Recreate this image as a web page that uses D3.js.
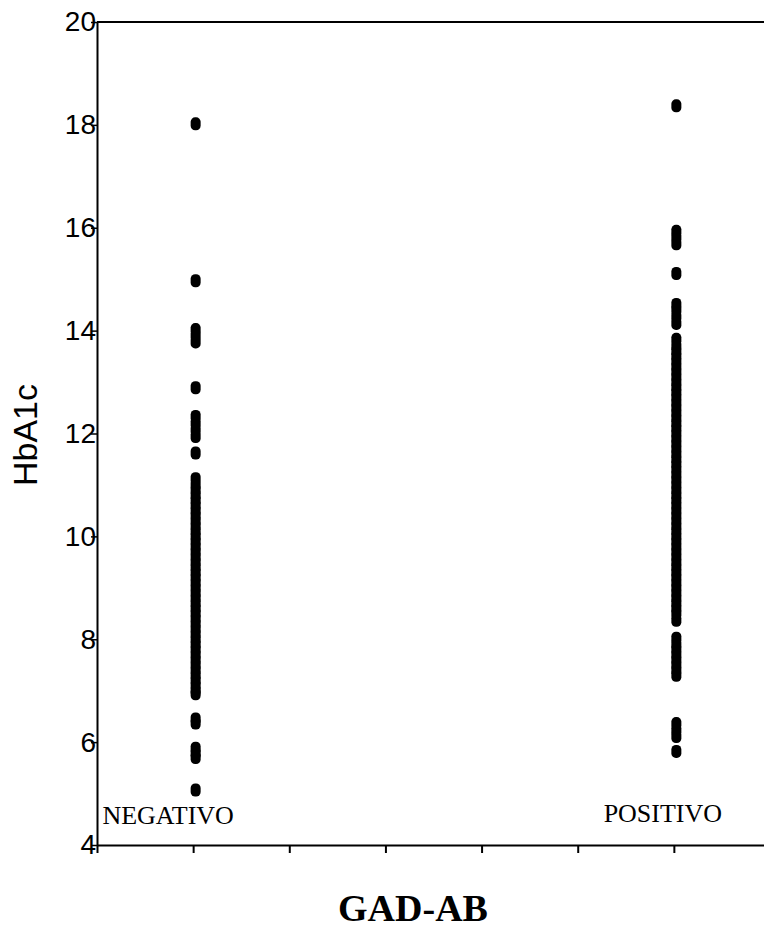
<!DOCTYPE html>
<html>
<head>
<meta charset="utf-8">
<script src="https://cdn.jsdelivr.net/npm/d3@7"></script>
<style>
  body { margin: 0; background: #fff; }
  svg { display: block; }
</style>
</head>
<body>
<div class="grafico"></div>
<script>
var width = 764, height = 941;

// categories on the x axis
var categories = ["NEGATIVO", "POSITIVO"],
  catPos = [1, 6];
var xTicks = [0, 1, 2, 3, 4, 5, 6, 7],
  yTicks = [4, 6, 8, 10, 12, 14, 16, 18, 20];

// HbA1c readings, GAD-AB negative
var negValues = [18.02, 14.97, 14.02, 13.9, 13.78, 12.89, 12.33, 12.2, 12.07, 11.94,
  11.62, 11.12, 11.0, 10.9, 10.8, 10.7, 10.6, 10.5, 10.4, 10.3, 10.2, 10.1, 10.0,
  9.9, 9.8, 9.7, 9.6, 9.5, 9.4, 9.3, 9.2, 9.1, 9.0, 8.9, 8.8, 8.7, 8.6, 8.5, 8.4,
  8.3, 8.2, 8.1, 8.0, 7.9, 7.8, 7.7, 7.6, 7.5, 7.4, 7.3, 7.2, 7.1, 7.0, 6.94,
  6.45, 6.37, 5.88, 5.78, 5.7, 5.07];

// HbA1c readings, GAD-AB positive
var posValues = [18.37, 15.93, 15.81, 15.69, 15.11, 14.51, 14.4, 14.27, 14.14,
  13.83, 13.7, 13.6, 13.5, 13.4, 13.3, 13.2, 13.1, 13.0, 12.9, 12.8, 12.7, 12.6,
  12.5, 12.4, 12.3, 12.2, 12.1, 12.0, 11.9, 11.8, 11.7, 11.6, 11.5, 11.4, 11.3,
  11.2, 11.1, 11.0, 10.9, 10.8, 10.7, 10.6, 10.5, 10.4, 10.3, 10.2, 10.1, 10.0,
  9.9, 9.8, 9.7, 9.6, 9.5, 9.4, 9.3, 9.2, 9.1, 9.0, 8.9, 8.8, 8.7, 8.6, 8.5, 8.37,
  8.02, 7.9, 7.8, 7.7, 7.6, 7.5, 7.4, 7.3, 6.36, 6.23, 6.11, 5.82];

var svg = d3.select(".grafico").append("svg")
  .attr("width", width)
  .attr("height", height);

var x = d3.scaleLinear().domain([0, 7]).range([97, 770]);
var y = d3.scaleLinear().domain([4, 20]).range([845, 22]);

// frame: top line
svg.append("line")
  .attr("x1", x(0)).attr("x2", x(7))
  .attr("y1", y(20)).attr("y2", y(20))
  .attr("stroke", "#000")
  .attr("stroke-width", 2);

// y axis, labels sit right on the axis line
var yAxis = svg.append("g")
  .attr("transform", "translate(" + x(0) + ",0)")
  .call(d3.axisLeft(y).tickValues(yTicks).tickSizeInner(6).tickSizeOuter(0).tickPadding(-5));
yAxis.select(".domain").attr("stroke-width", 2);
yAxis.selectAll(".tick line").attr("stroke-width", 1.5);
yAxis.selectAll("text")
  .attr("font-family", "Liberation Sans, Arial, sans-serif")
  .attr("font-size", 28)
  .attr("fill", "#000");

// x axis, ticks only
var xAxis = svg.append("g")
  .attr("transform", "translate(0," + y(4) + ")")
  .call(d3.axisBottom(x).tickValues(xTicks).tickSizeInner(8).tickSizeOuter(0).tickFormat(""));
xAxis.select(".domain").attr("stroke-width", 2);
xAxis.selectAll(".tick line").attr("stroke-width", 2);

// points
var groups = [negValues, posValues];
groups.forEach(function (vals, i) {
  svg.append("g").selectAll("rect")
    .data(vals)
    .enter().append("rect")
    .attr("x", x(catPos[i]) + 2.5 - 5)
    .attr("y", function (d) { return y(d) - 6.5; })
    .attr("width", 10)
    .attr("height", 13)
    .attr("rx", 4.5)
    .attr("ry", 4.5)
    .attr("fill", "#000");
});

// category labels inside plot
var labelShift = [-25, -11];
svg.append("g").selectAll("text")
  .data(categories)
  .enter().append("text")
  .attr("x", function (d, i) { return x(catPos[i]) + labelShift[i]; })
  .attr("y", function (d, i) { return y(4.4) - (i * 2); })
  .attr("text-anchor", "middle")
  .attr("font-family", "Liberation Serif, Times New Roman, serif")
  .attr("font-size", 26)
  .text(function (d) { return d; });

// axis titles
svg.append("text")
  .attr("transform", "translate(37,435) rotate(-90)")
  .attr("text-anchor", "middle")
  .attr("font-family", "Liberation Sans, Arial, sans-serif")
  .attr("font-size", 34)
  .text("HbA1c");

svg.append("text")
  .attr("x", 413)
  .attr("y", 921)
  .attr("text-anchor", "middle")
  .attr("font-family", "Liberation Serif, Times New Roman, serif")
  .attr("font-weight", "bold")
  .attr("font-size", 38)
  .text("GAD-AB");
</script>
</body>
</html>
